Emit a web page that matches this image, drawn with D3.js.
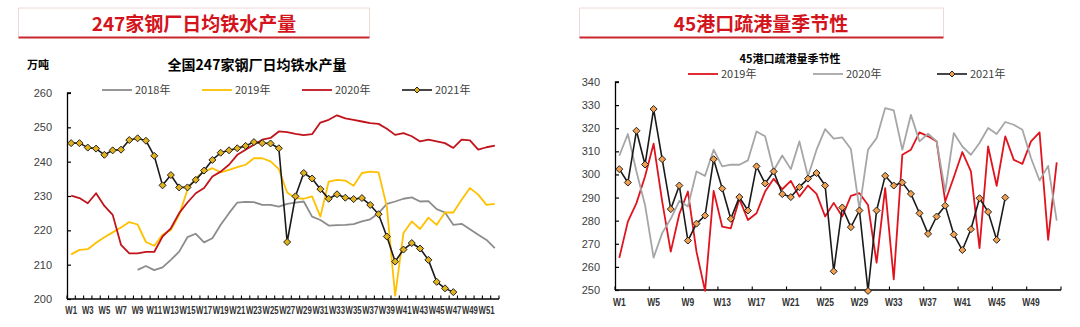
<!DOCTYPE html>
<html><head><meta charset="utf-8">
<script src="https://cdn.jsdelivr.net/npm/d3@7/dist/d3.min.js"></script>
<style>
body{margin:0;background:#fff;}
svg{display:block;}
text{font-family:Arial,"Liberation Sans","Noto Sans CJK SC",sans-serif;}
</style></head><body>
<svg id="c" width="1080" height="327"></svg>
<script>
// ---------- data ----------
const weeks = d3.range(1,53).map(i=>"W"+i);

// Left: 247 steel mills daily hot metal output (万吨)
const leftYTicks = [200,210,220,230,240,250,260];
const hm2018 = [null,null,null,null,null,null,null,null,208.5,209.6,208.4,209.2,211.4,213.8,218.0,219.0,216.5,217.7,221.6,225.0,228.1,228.3,228.2,227.4,227.4,226.9,227.7,228.1,228.4,224.0,223.0,221.4,221.5,221.6,221.8,222.6,223.2,225.0,227.7,228.4,229.2,229.6,228.4,228.5,226.2,225.2,221.6,221.9,220.3,218.7,217.2,214.8];
const hm2019 = [213.0,214.3,214.5,216.4,218.0,219.4,220.8,222.4,221.7,216.6,215.5,218.7,220.1,224.5,231.8,235.2,237.1,238.1,236.9,237.6,238.4,239.1,241.0,241.0,240.1,237.8,231.0,229.4,229.2,229.9,224.0,234.2,234.7,234.5,233.0,236.7,237.1,236.9,226.9,200.9,219.2,222.6,220.4,223.7,221.6,225.2,225.2,228.9,232.3,230.4,227.4,227.7];
const hm2020 = [230.1,229.4,227.9,230.8,227.1,224.5,215.8,213.3,213.3,213.7,213.7,218.2,220.6,225.0,228.1,230.8,232.3,235.7,237.1,239.1,242.0,243.5,244.9,246.4,246.9,248.8,248.6,248.1,247.7,248.0,251.4,252.2,253.5,252.6,252.2,251.7,251.2,251.0,249.6,247.8,248.3,247.4,245.9,246.4,245.9,245.4,244.0,246.4,246.2,243.5,244.2,244.7];
const hm2021 = [245.4,245.4,244.1,243.8,242.0,243.3,243.5,246.3,246.8,246.1,241.7,233.1,236.1,232.5,232.5,234.7,237.4,240.5,242.6,243.3,243.9,244.6,245.7,245.4,245.3,243.9,216.6,229.9,236.7,235.1,232.0,229.2,230.5,229.5,229.1,229.4,227.4,224.7,218.2,210.9,214.4,216.3,214.7,211.4,205.0,203.1,202.0];

// Right: 45 ports outbound volume
const rightYTicks = [250,260,270,280,290,300,310,320,330,340];
const port2019 = [263.9,279.6,287.6,299.1,313.3,288.3,266.6,282.9,292.6,266.6,249.6,292.9,277.4,276.7,289.4,280.3,283.2,292.6,298.1,293.6,297.2,290.4,295.2,291.6,281.8,287.7,281.8,290.7,291.9,286.8,261.8,294.1,254.6,308.5,310.7,318.2,316.5,314.3,288.3,298.8,309.7,301.3,268.1,312.1,295.1,316.5,306.3,304.6,314.3,318.2,271.7,305.2];
const port2020 = [308.1,317.5,301.3,286.8,264.0,274.6,280.8,288.6,286.1,301.3,299.4,310.7,303.5,304.2,304.2,306.1,318.6,316.5,301.7,308.2,302.3,314.3,299.1,310.7,319.6,315.5,316.0,311.0,285.0,310.7,315.7,328.7,327.7,310.7,325.8,314.3,317.6,314.3,292.6,317.9,312.1,308.5,313.6,320.1,317.5,322.7,321.5,319.3,307.1,297.4,303.7,280.0];
const port2021 = [302.3,296.5,318.9,304.3,328.3,306.6,285.0,295.2,271.4,278.7,282.2,306.6,293.9,280.8,290.2,284.4,303.5,296.1,301.3,291.5,290.2,294.5,298.2,300.6,295.2,258.1,285.7,277.2,284.4,249.6,284.4,299.4,295.2,296.5,291.6,283.2,274.3,281.8,286.5,274.0,267.3,276.3,289.7,283.8,271.7,290.0];

const leftTitle = "247家钢厂日均铁水产量";
const leftChartTitle = "全国247家钢厂日均铁水产量";
const leftUnit = "万吨";
const rightTitle = "45港口疏港量季节性";
const rightChartTitle = "45港口疏港量季节性";

// ---------- drawing ----------
const svg = d3.select("#c");
svg.append("rect").attr("width",1080).attr("height",327).attr("fill","#fff");
const CJK = '"Noto Sans CJK SC",sans-serif';
const NUM = 'Arial,"Liberation Sans",sans-serif';

function titleBox(x0,x1,text,cx){
  const g = svg.append("g");
  g.append("path").attr("d",`M${x0},37 V8 H${x1} V37`).attr("fill","none").attr("stroke","#f3d6d6").attr("stroke-width",1);
  g.append("line").attr("x1",x0).attr("x2",x1).attr("y1",37.5).attr("y2",37.5).attr("stroke","#c8262c").attr("stroke-width",2);
  g.append("text").attr("x",cx).attr("y",31).attr("text-anchor","middle")
   .style("font-family",CJK).style("font-weight","bold").style("font-size","19px").attr("fill","#d3141c").text(text);
}
titleBox(18.5,369.5,leftTitle,194);
titleBox(579.5,943.5,rightTitle,761);

function diamond(g,x,y,fill,r){
  g.append("path").attr("d",`M${x},${y-r}L${x+r},${y}L${x},${y+r}L${x-r},${y}Z`)
   .attr("fill",fill).attr("stroke","#222").attr("stroke-width",1);
}

function legend(items,y,fs){
  const g = svg.append("g");
  items.forEach(it=>{
    g.append("line").attr("x1",it.x).attr("x2",it.x+30).attr("y1",y).attr("y2",y)
      .attr("stroke",it.color).attr("stroke-width",it.w||1.8);
    if(it.marker) diamond(g,it.x+15,y,it.marker,3);
    g.append("text").attr("x",it.x+33).attr("y",y+4).style("font-family",CJK).style("font-size",fs+"px")
      .attr("fill","#404040").text(it.label);
  });
}

function chart(cfg){
  const x = d3.scaleBand().domain(weeks).range([cfg.x0,cfg.x1]).padding(0);
  const y = d3.scaleLinear().domain(cfg.ydom).range([cfg.yb,cfg.yt]);
  const g = svg.append("g");
  const cx = i=>x(weeks[i])+x.bandwidth()/2;

  // y axis
  const ya = g.append("g").attr("transform",`translate(${cfg.x0},0)`)
    .call(d3.axisRight(y).tickValues(cfg.yticks).tickSize(4).tickFormat(d3.format("d")));
  ya.select(".domain").attr("stroke","#000").attr("stroke-width",1.3).attr("d",`M4,${cfg.yt}H0.5V${cfg.yb}`);
  ya.selectAll(".tick line").attr("stroke","#000").attr("stroke-width",1.2);
  ya.selectAll(".tick text").attr("x",cfg.ylabX-cfg.x0).attr("text-anchor","end")
    .style("font-family",NUM).style("font-size","11px").attr("fill","#404040");

  // x axis
  const xa = g.append("g").attr("transform",`translate(0,${cfg.yb})`);
  xa.append("line").attr("x1",cfg.x0).attr("x2",cfg.x1).attr("y1",0).attr("y2",0).attr("stroke","#000").attr("stroke-width",1.3);
  d3.range(0,53,cfg.tickEvery).forEach(i=>{
    const px = cfg.x0 + i*x.step();
    xa.append("line").attr("x1",px).attr("x2",px).attr("y1",0).attr("y2",-3.5).attr("stroke","#000").attr("stroke-width",1.1);
  });
  weeks.forEach((w,i)=>{
    if(i % cfg.labelEvery) return;
    xa.append("text").attr("transform",`translate(${cx(i)},${cfg.xlabDy}) scale(${cfg.xlabScale},1)`).attr("text-anchor","middle")
      .style("font-family",NUM).style("font-weight","bold")
      .style("font-size","10px").attr("fill","#333").text(w);
  });

  // series
  cfg.series.forEach(s=>{
    const line = d3.line().defined(d=>d!=null).x((d,i)=>cx(i)).y(d=>y(d));
    g.append("path").datum(s.data).attr("d",line).attr("fill","none")
      .attr("stroke",s.color).attr("stroke-width",s.w||1.8).attr("stroke-linejoin","round");
    if(s.marker){
      s.data.forEach((d,i)=>{ if(d!=null) diamond(g,cx(i),y(d),s.marker,3.5); });
    }
  });
}

// Left chart
svg.append("text").attr("x",257).attr("y",70).attr("text-anchor","middle").style("font-family",CJK)
  .style("font-weight","bold").style("font-size","14px").attr("fill","#000").text(leftChartTitle);
svg.append("text").attr("x",27).attr("y",69).style("font-family",CJK)
  .style("font-weight","bold").style("font-size","11px").attr("fill","#000").text(leftUnit);
legend([
  {x:102,color:"#8c8c8c",label:"2018年"},
  {x:202,color:"#ffc000",label:"2019年"},
  {x:302,color:"#c0141c",label:"2020年"},
  {x:402,color:"#1a1a1a",label:"2021年",marker:"#e2b21c",w:1.6}
],90,11);
chart({x0:67,x1:499,yt:93,yb:299,ydom:[200,260],yticks:leftYTicks,ylabX:52,
  tickEvery:1,labelEvery:2,xlabDy:15,xlabScale:0.78,
  series:[
    {data:hm2018,color:"#8c8c8c"},
    {data:hm2019,color:"#ffc000"},
    {data:hm2020,color:"#c0141c"},
    {data:hm2021,color:"#1a1a1a",marker:"#e2b21c",w:1.6}
  ]});

// Right chart
svg.append("text").attr("x",790).attr("y",63).attr("text-anchor","middle").style("font-family",CJK)
  .style("font-weight","bold").style("font-size","11px").attr("fill","#000").text(rightChartTitle);
legend([
  {x:688,color:"#e0141e",label:"2019年"},
  {x:813,color:"#a6a6a6",label:"2020年"},
  {x:937,color:"#1a1a1a",label:"2021年",marker:"#f0a050",w:1.6}
],74,11);
chart({x0:615,x1:1061,yt:82,yb:290,ydom:[250,340],yticks:rightYTicks,ylabX:600,
  tickEvery:4,labelEvery:4,xlabDy:16,xlabScale:0.85,
  series:[
    {data:port2019,color:"#e0141e"},
    {data:port2020,color:"#a6a6a6"},
    {data:port2021,color:"#1a1a1a",marker:"#f0a050",w:1.6}
  ]});
</script>
</body></html>
